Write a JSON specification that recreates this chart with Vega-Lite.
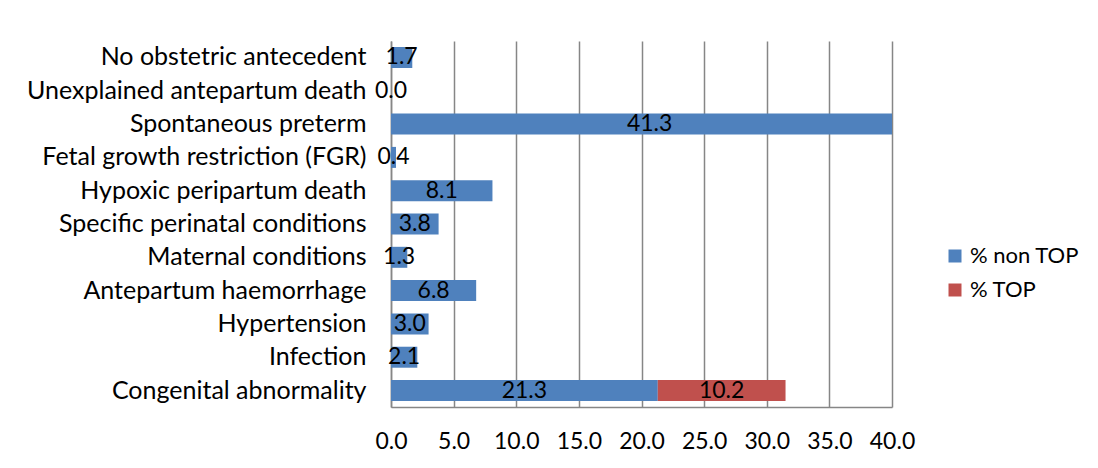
{
  "$schema": "https://vega.github.io/schema/vega-lite/v6.json",
  "width": 501,
  "height": 366,
  "autosize": {"type": "none"},
  "padding": {"left": 391, "top": 41, "right": 206, "bottom": 61},
  "background": "white",
  "config": {"view": {"stroke": null}, "font": "Lato"},
  "data": {"values": [
    {"category": "No obstetric antecedent", "type": "% non TOP", "value": 1.7},
    {"category": "Unexplained antepartum death", "type": "% non TOP", "value": 0.0},
    {"category": "Spontaneous preterm", "type": "% non TOP", "value": 41.3},
    {"category": "Fetal growth restriction (FGR)", "type": "% non TOP", "value": 0.4},
    {"category": "Hypoxic peripartum death", "type": "% non TOP", "value": 8.1},
    {"category": "Specific perinatal conditions", "type": "% non TOP", "value": 3.8},
    {"category": "Maternal conditions", "type": "% non TOP", "value": 1.3},
    {"category": "Antepartum haemorrhage", "type": "% non TOP", "value": 6.8},
    {"category": "Hypertension", "type": "% non TOP", "value": 3.0},
    {"category": "Infection", "type": "% non TOP", "value": 2.1},
    {"category": "Congenital abnormality", "type": "% non TOP", "value": 21.3},
    {"category": "Congenital abnormality", "type": "% TOP", "value": 10.2}
  ]},
  "transform": [
    {"stack": "value", "groupby": ["category"], "sort": [{"field": "type", "order": "descending"}], "as": ["x0", "x1"]},
    {"calculate": "(datum.x0 + datum.x1) / 2", "as": "mid"}
  ],
  "encoding": {
    "y": {
      "field": "category", "type": "nominal", "sort": null,
      "scale": {"paddingInner": 0.37, "paddingOuter": 0.18},
      "axis": {"title": null, "ticks": false, "domain": true, "domainColor": "#868686", "domainWidth": 1.5,
               "labelFontSize": 25, "labelColor": "#000000", "labelPadding": 25, "labelLimit": 500, "grid": false}
    }
  },
  "layer": [
    {
      "mark": {"type": "bar", "clip": true},
      "encoding": {
        "x": {"field": "x0", "type": "quantitative",
              "scale": {"domain": [0, 40], "nice": false},
              "axis": {"title": null, "values": [0, 5, 10, 15, 20, 25, 30, 35, 40], "format": ".1f",
                       "ticks": false, "grid": true, "gridColor": "#868686", "gridWidth": 1.5,
                       "domainColor": "#868686", "domainWidth": 1.5,
                       "labelFontSize": 23, "labelColor": "#000000", "labelPadding": 23, "labelFlush": false}},
        "x2": {"field": "x1"},
        "color": {"field": "type", "type": "nominal",
                  "scale": {"domain": ["% non TOP", "% TOP"], "range": ["#4F81BD", "#C0504D"]},
                  "legend": {"title": null, "orient": "none", "legendX": 553, "legendY": 204,
                             "symbolType": "square", "symbolSize": 169, "symbolStrokeWidth": 0,
                             "labelFontSize": 22, "labelColor": "#000000", "rowPadding": 12, "padding": 0, "labelOffset": 4}}
      }
    },
    {
      "mark": {"type": "text", "fontSize": 23, "color": "#000000", "align": "center", "baseline": "middle"},
      "encoding": {
        "x": {"field": "mid", "type": "quantitative"},
        "text": {"field": "value", "type": "quantitative", "format": ".1f"}
      }
    }
  ]
}
